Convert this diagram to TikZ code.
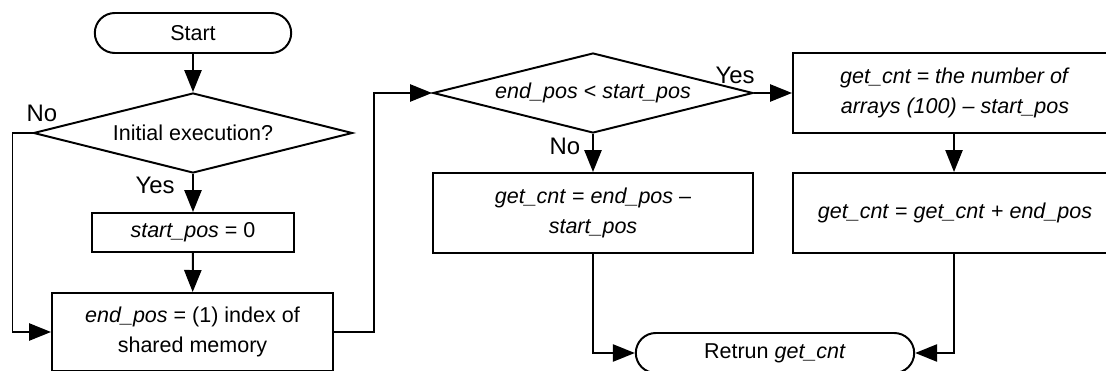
\documentclass[tikz,border=0pt]{standalone}
\usepackage{fontspec}
\setmainfont{Liberation Sans}
\usetikzlibrary{shapes.geometric,shapes.misc,arrows.meta}

\begin{document}
\begin{tikzpicture}
	 \tikzstyle{box}=[draw,line width=1.4pt,rectangle,inner sep=2pt,font=\fontsize{15.3}{21.3}\selectfont]
	 \tikzstyle{terminal}=[box,rounded rectangle]
	 \tikzstyle{decision}=[box,diamond,aspect=4,inner sep=0pt]
	 \tikzstyle{answer}=[inner sep=0pt,font=\fontsize{17}{20}\selectfont]
	 \tikzstyle{edge}=[draw,line width=1.4pt,-{Triangle[length=0.55cm,width=0.43cm]}]
	 \useasboundingbox (0,0) rectangle (27.65,-9.275);
	 \node[terminal,minimum width=5.05cm,minimum height=1cm] (start) at (4.825,-0.825) {Start};
	 \node[decision,minimum width=7.975cm,minimum height=2cm] (init) at (4.825,-3.325) {Initial execution?};
	 \node[box,minimum width=5.05cm,minimum height=0.975cm] (setstart) at (4.825,-5.8125) {\textit{start\_pos} = 0};
	 \node[box,align=center,minimum width=7.025cm,minimum height=1.95cm] (endpos) at (4.8125,-8.3) {\textit{end\_pos} = (1) index of\\shared memory};
	 \node[decision,minimum width=8cm,minimum height=2cm] (cmp) at (14.825,-2.325) {\textit{end\_pos} < \textit{start\_pos}};
	 \node[box,align=center,minimum width=8cm,minimum height=2cm] (neg) at (14.825,-5.325) {\textit{get\_cnt} = \textit{end\_pos} --\\\textit{start\_pos}};
	 % right column runs off the page edge
	 \node[box,inner sep=0pt,minimum width=9cm,minimum height=2cm] (wrap) at (24.325,-2.325) {\makebox[9cm][l]{\parbox{8.1cm}{\centering\textit{get\_cnt = the number of}\\\textit{arrays (100) -- start\_pos}}}};
	 \node[box,inner sep=0pt,minimum width=9cm,minimum height=2cm] (add) at (24.325,-5.325) {\makebox[9cm][l]{\parbox{8.1cm}{\centering\textit{get\_cnt} = \textit{get\_cnt} + \textit{end\_pos}}}};
	 \node[terminal,minimum width=7.1cm,minimum height=1cm] (ret) at (19.375,-8.825) {Retrun \textit{get\_cnt}};
	 \node[answer] (no1) at (1.05,-2.825) {No};
	 \node[answer] (yes1) at (3.875,-4.625) {Yes};
	 \node[answer] (yes2) at (18.375,-1.875) {Yes};
	 \node[answer] (no2) at (14.125,-3.65) {No};
	 \draw[edge] (start) -- (init);
	 \draw[edge] (init) -- (setstart);
	 \draw[edge] (setstart) -- (endpos);
	 \draw[edge] (init.west) -- ++(-0.5,0) |- (endpos.west);
	 \draw[edge] (endpos.east) -- ++(1,0) |- (cmp.west);
	 \draw[edge] (cmp.east) -- (wrap.west);
	 \draw[edge] (cmp.south) -- (neg.north);
	 \draw[edge] ([xshift=4.05cm]wrap.south west) -- ([xshift=4.05cm]add.north west);
	 \draw[edge] (neg.south) |- (ret.west);
	 \draw[edge] ([xshift=4.05cm]add.south west) |- (ret.east);
\end{tikzpicture}
\end{document}
